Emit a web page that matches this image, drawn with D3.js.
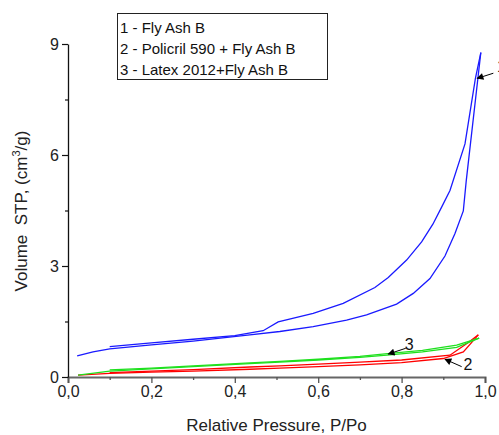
<!DOCTYPE html>
<html>
<head>
<meta charset="utf-8">
<script src="https://cdn.jsdelivr.net/npm/d3@7"></script>
<style>
  html, body { margin: 0; padding: 0; background: #fff; }
  svg { display: block; font-family: Arial, "Liberation Sans", sans-serif; }
</style>
</head>
<body>
<svg id="chart" width="499" height="435"></svg>
<script>
/* Nitrogen isotherms: adsorption + desorption branch per sample. */

var legendLabels = ["1 - Fly Ash B", "2 - Policril 590 + Fly Ash B", "3 - Latex 2012+Fly Ash B"];
var xTicks = [0, 0.2, 0.4, 0.6, 0.8, 1.0];
var yTicks = [0, 3, 6, 9];

// [P/Po, volume]
var flyAshAds = [[0.022,0.57],[0.06,0.68],[0.1,0.76],[0.2,0.87],[0.3,0.97],[0.436,1.14],[0.508,1.23],[0.588,1.36],[0.668,1.54],[0.716,1.68],[0.788,1.97],[0.828,2.26],[0.868,2.66],[0.904,3.27],[0.928,3.88],[0.948,4.49],[0.955,5.3],[0.99,8.77]];
var flyAshDes = [[0.1,0.82],[0.2,0.92],[0.3,1.02],[0.4,1.12],[0.468,1.25],[0.504,1.49],[0.588,1.72],[0.66,1.99],[0.736,2.42],[0.768,2.69],[0.812,3.16],[0.848,3.65],[0.875,4.13],[0.896,4.59],[0.916,5.04],[0.952,6.3],[0.977,8.07],[0.99,8.77]];
var policrilAds = [[0.024,0.05],[0.1,0.1],[0.2,0.13],[0.3,0.16],[0.436,0.21],[0.508,0.24],[0.6,0.28],[0.7,0.33],[0.8,0.39],[0.9,0.5],[0.948,0.68],[0.984,1.14]];
var policrilDes = [[0.1,0.12],[0.2,0.16],[0.3,0.2],[0.436,0.27],[0.508,0.3],[0.6,0.35],[0.7,0.4],[0.8,0.46],[0.916,0.59],[0.96,0.93],[0.984,1.14]];
var latexAds = [[0.024,0.05],[0.1,0.16],[0.2,0.22],[0.3,0.28],[0.436,0.36],[0.508,0.4],[0.6,0.46],[0.7,0.53],[0.772,0.6],[0.85,0.68],[0.932,0.8],[0.986,1.05]];
var latexDes = [[0.1,0.19],[0.2,0.24],[0.3,0.3],[0.436,0.38],[0.508,0.42],[0.6,0.48],[0.7,0.56],[0.772,0.64],[0.85,0.72],[0.932,0.86],[0.986,1.05]];

// curve labels: text, label pos, arrow start, arrow tip (data units)
var curveNotes = [
  { text: "1", at: [1.029, 8.24], from: [1.02, 8.21], to: [0.981, 8.07] },
  { text: "2", at: [0.959, 0.19], from: [0.944, 0.28], to: [0.904, 0.48] },
  { text: "3", at: [0.818, 0.73], from: [0.81, 0.776], to: [0.768, 0.62] }
];

var W = 499, H = 435;
var m = { top: 44, right: 14, bottom: 58, left: 68 };

var svg = d3.select("#chart");
var x = d3.scaleLinear().domain([0, 1]).range([m.left, W - m.right]);
var y = d3.scaleLinear().domain([0, 9]).range([H - m.bottom, m.top]);
var fmt = function (d) { return d3.format(".1f")(d).replace(".", ","); };

var defs = svg.append("defs");
defs.append("marker").attr("id", "head").attr("viewBox", "0 0 10 10")
  .attr("refX", 9).attr("refY", 5).attr("markerWidth", 9).attr("markerHeight", 7)
  .attr("markerUnits", "userSpaceOnUse").attr("orient", "auto")
  .append("path").attr("d", "M0,0 L10,5 L0,10 Z").attr("fill", "#000");

var line = d3.line().x(function (d) { return x(d[0]); }).y(function (d) { return y(d[1]); });

var series = [
  { pts: flyAshAds, color: "#1a1aff" }, { pts: flyAshDes, color: "#1a1aff" },
  { pts: policrilAds, color: "#ff0000" }, { pts: policrilDes, color: "#ff0000" },
  { pts: latexAds, color: "#1ee01e" }, { pts: latexDes, color: "#1ee01e" }
];
series.forEach(function (s) {
  svg.append("path").attr("d", line(s.pts)).attr("fill", "none")
    .attr("stroke", s.color).attr("stroke-width", 1.3);
});

// x axis
var gx = svg.append("g").attr("transform", "translate(0," + y(0) + ")");
gx.call(d3.axisBottom(x).tickValues(xTicks).tickFormat(fmt).tickSize(6).tickPadding(3));
gx.append("g").call(d3.axisBottom(x).tickValues([0.1, 0.3, 0.5, 0.7, 0.9]).tickFormat("").tickSize(3))
  .select(".domain").remove();
gx.selectAll(".domain").attr("stroke", "#666").attr("stroke-width", 2);
gx.selectAll(".tick line").attr("stroke", "#555").attr("stroke-width", 1.3);
gx.selectAll(".tick text").attr("font-size", 16).attr("fill", "#222")
  .style("font-family", "Arial, 'Liberation Sans', sans-serif");

// y axis
var gy = svg.append("g").attr("transform", "translate(" + x(0) + ",0)");
gy.call(d3.axisLeft(y).tickValues(yTicks).tickFormat(d3.format("d")).tickSize(6).tickPadding(3).tickSizeOuter(0));
gy.append("g").call(d3.axisLeft(y).tickValues([1.5, 4.5, 7.5]).tickFormat("").tickSize(3))
  .select(".domain").remove();
gy.selectAll(".domain").attr("stroke", "#111").attr("stroke-width", 1.3);
gy.selectAll(".tick line").attr("stroke", "#111").attr("stroke-width", 1.2);
gy.selectAll(".tick text").attr("font-size", 16).attr("fill", "#222")
  .style("font-family", "Arial, 'Liberation Sans', sans-serif");

// axis titles
svg.append("text").attr("x", (x(0) + x(1)) / 2).attr("y", 431)
  .attr("text-anchor", "middle").attr("font-size", 17).attr("fill", "#222")
  .text("Relative Pressure, P/Po");
var yt = svg.append("text").attr("transform", "translate(27," + 211 + ") rotate(-90)")
  .attr("text-anchor", "middle").attr("font-size", 17).attr("fill", "#222")
  .attr("xml:space", "preserve");
yt.append("tspan").text("Volume  STP, (cm");
yt.append("tspan").attr("font-size", 11).attr("dy", -7).text("3");
yt.append("tspan").attr("dy", 7).text("/g)");

// curve labels with arrows
curveNotes.forEach(function (n) {
  svg.append("line").attr("x1", x(n.from[0])).attr("y1", y(n.from[1]))
    .attr("x2", x(n.to[0])).attr("y2", y(n.to[1]))
    .attr("stroke", "#000").attr("stroke-width", 1).attr("marker-end", "url(#head)");
  svg.append("text").attr("x", x(n.at[0])).attr("y", y(n.at[1]))
    .attr("text-anchor", n.text === "1" ? "start" : "middle")
    .attr("font-size", 16).attr("fill", "#111").text(n.text);
});

// legend
var lg = svg.append("g");
lg.append("rect").attr("x", 117.5).attr("y", 13.5).attr("width", 210).attr("height", 66)
  .attr("fill", "#fff").attr("stroke", "#222").attr("stroke-width", 1);
legendLabels.forEach(function (t, i) {
  lg.append("text").attr("x", 120).attr("y", 33 + i * 21)
    .attr("font-size", 15).attr("fill", "#111").text(t);
});
</script>
</body>
</html>
